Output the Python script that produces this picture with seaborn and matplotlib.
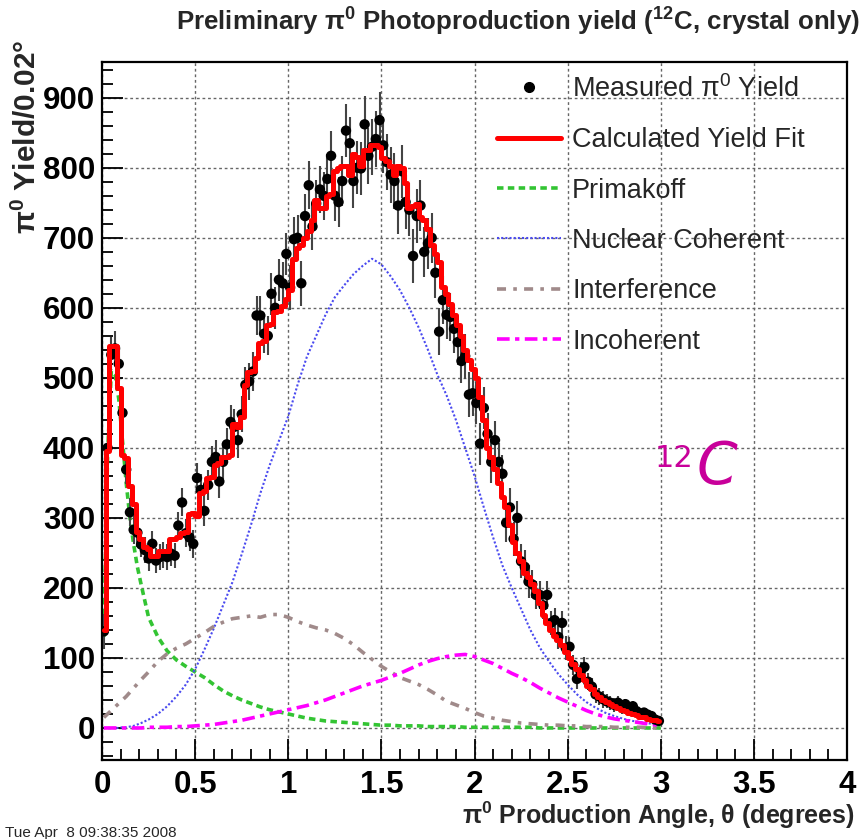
import numpy as np
import pandas as pd
import matplotlib
matplotlib.use("Agg")
import matplotlib.pyplot as plt
from matplotlib.lines import Line2D
from matplotlib.ticker import MultipleLocator, FuncFormatter
import seaborn as sns

# ---------------- data ----------------
# bin centres (0.02 deg bins)
theta = np.round(np.arange(150) * 0.02 + 0.01, 2)

meas_0_1 = [138, 400, 533, 542, 520, 450, 369, 308, 283, 279,
            262, 254, 242, 263, 239, 244, 247, 244, 249, 246,
            289, 322, 278, 272, 263, 357, 340, 310, 347, 380,
            387, 352, 380, 405, 437, 430, 411, 448, 490, 495,
            509, 589, 589, 563, 560, 620, 600, 640, 635, 677]
meas_1_2 = [629, 698, 700, 635, 731, 775, 716, 749, 769, 760,
            784, 817, 760, 751, 781, 853, 835, 781, 800, 799,
            862, 817, 830, 841, 868, 832, 808, 790, 781, 746,
            795, 751, 740, 674, 731, 746, 680, 692, 700, 650,
            566, 611, 590, 587, 570, 551, 524, 531, 476, 478]
meas_2_3 = [464, 406, 457, 420, 380, 411, 380, 363, 293, 315,
            270, 300, 238, 230, 209, 205, 190, 190, 175, 190,
            150, 154, 130, 150, 114, 116, 90, 70, 80, 87,
            66, 59, 48, 45, 41, 38, 36, 33, 36, 30,
            34, 25, 31, 24, 20, 22, 19, 17, 12, 10]

fit_0_1 = [140, 395, 545, 545, 486, 390, 385, 345, 320, 280,
           270, 258, 255, 246, 246, 253, 253, 252, 270, 270,
           272, 279, 280, 305, 307, 303, 335, 338, 357, 358,
           376, 378, 387, 387, 390, 434, 430, 444, 490, 508,
           510, 528, 550, 553, 575, 577, 594, 596, 603, 612]
fit_1_2 = [625, 670, 685, 690, 700, 710, 725, 754, 742, 742,
           760, 762, 796, 800, 802, 802, 790, 820, 815, 802,
           826, 826, 832, 832, 830, 814, 810, 802, 790, 802,
           800, 778, 742, 745, 748, 730, 725, 712, 690, 677,
           665, 629, 620, 605, 590, 575, 560, 540, 525, 512]
fit_2_3 = [500, 473, 440, 400, 387, 370, 350, 330, 315, 290,
           265, 250, 238, 222, 215, 205, 195, 178, 162, 150,
           140, 132, 125, 118, 108, 100, 92, 84, 76, 68,
           60, 55, 49, 44, 40, 37, 34, 31, 28, 26,
           24, 22, 20, 18, 16, 15, 13, 12, 11, 10]

# statistical error per 0.1-deg range (applies to the 5 bins inside)
err_by_tenth = [25, 20, 18, 18, 20, 22, 24, 26, 28, 30,
                32, 34, 36, 38, 40, 40, 38, 36, 34, 32,
                30, 27, 24, 20, 17, 14, 12, 10, 8, 6]

# component curves, sampled finer near the Primakoff peak
comp_theta = np.round(np.r_[np.arange(0.01, 0.22, 0.02),
                            np.arange(0.25, 3.001, 0.05)], 2)
primakoff = [130, 390, 510, 505, 470, 410, 350, 300, 262, 230, 205,
             158, 130, 110, 97, 88, 80, 72, 62, 53, 46,
             40, 35, 30, 26, 23, 20, 17, 14, 12, 10,
             9, 8, 7, 6, 5, 4, 4, 3, 3, 3,
             2, 2, 2, 2, 1, 1, 1, 1, 1, 1,
             1, 1, 0, 0, 0, 0, 0, 0, 0, 0,
             0, 0, 0, 0, 0, 0]
nuclear = [0, 0, 0, 0, 0, 1, 1, 2, 3, 5, 7,
           12, 20, 31, 45, 62, 84, 112, 142, 175, 208,
           248, 290, 335, 375, 410, 445, 490, 530, 560, 590,
           615, 632, 648, 660, 670, 662, 645, 625, 600, 572,
           540, 505, 475, 440, 400, 360, 315, 272, 232, 200,
           170, 140, 115, 95, 77, 62, 48, 37, 29, 22,
           17, 13, 10, 8, 6, 4]
interference = [15, 20, 25, 30, 35, 40, 45, 51, 57, 63, 69,
                80, 95, 106, 114, 120, 128, 136, 145, 151, 156,
                158, 160, 158, 162, 162, 158, 152, 147, 143, 140,
                135, 128, 119, 108, 98, 88, 80, 72, 67, 62,
                55, 47, 38, 33, 28, 22, 17, 14, 11, 9,
                7, 6, 5, 4, 4, 3, 3, 2, 2, 2,
                1, 1, 1, 1, 0, 0]
incoherent = [0, 0, 0, 0, 0, 0, 0, 0, 0, 0, 0,
              1, 1, 1, 2, 2, 3, 4, 5, 7, 9,
              11, 14, 17, 20, 23, 26, 29, 32, 36, 40,
              45, 50, 55, 60, 64, 68, 73, 78, 84, 90,
              95, 99, 102, 104, 105, 102, 97, 92, 85, 78,
              72, 65, 57, 50, 43, 37, 31, 25, 20, 16,
              13, 11, 9, 7, 5, 4]

legend_labels = ["Measured π$^{0}$ Yield", "Calculated Yield Fit", "Primakoff",
                 "Nuclear Coherent", "Interference", "Incoherent"]

df_meas = pd.DataFrame({"theta": theta,
                        "measured": meas_0_1 + meas_1_2 + meas_2_3,
                        "fit": fit_0_1 + fit_1_2 + fit_2_3,
                        "err": np.repeat(err_by_tenth, 5)})
df_comp = pd.DataFrame({"theta": comp_theta, "primakoff": primakoff,
                        "nuclear": nuclear, "interference": interference,
                        "incoherent": incoherent})

# ---------------- style ----------------
sns.set_theme(style="ticks")
plt.rcParams["font.family"] = ["Liberation Sans", "DejaVu Sans"]
plt.rcParams["mathtext.default"] = "regular"

C_GREEN = "#33c433"
C_BLUE = "#4a4af0"
C_BROWN = "#a08a8a"
C_MAG = "#ff00ff"
C_RED = "#ff0000"

fig = plt.figure(figsize=(8.6, 8.39), dpi=100)
fig.patch.set_facecolor("white")
ax = fig.add_axes([0.1186, 0.0942, 0.8663, 0.8319])
ax.set_facecolor("white")

styles = {
    "primakoff": dict(color=C_GREEN, lw=2.6, linestyle=(0, (1.8, 1.2))),
    "nuclear": dict(color=C_BLUE, lw=1.5, linestyle=(0, (1, 1))),
    "interference": dict(color=C_BROWN, lw=2.6, linestyle=(0, (2.5, 2, 1, 2))),
    "incoherent": dict(color=C_MAG, lw=2.6, linestyle=(0, (3.5, 1.5, 1.2, 1.5))),
}
for col, st in styles.items():
    sns.lineplot(data=df_comp, x="theta", y=col, ax=ax, estimator=None,
                 zorder=2, **st)

ax.errorbar(df_meas["theta"], df_meas["measured"], yerr=df_meas["err"],
            fmt="none", ecolor="#444444", elinewidth=1.5, capsize=0, zorder=3)
sns.scatterplot(data=df_meas, x="theta", y="measured", ax=ax, color="black",
                s=56, edgecolor="none", linewidth=0, zorder=4)
sns.lineplot(data=df_meas, x="theta", y="fit", ax=ax, estimator=None,
             color=C_RED, lw=3.6, drawstyle="steps-mid", zorder=5)

# ---------------- axes ----------------
ax.set_xlim(0, 4)
ax.set_ylim(-45.7, 951)
ax.xaxis.set_major_locator(MultipleLocator(0.5))
ax.xaxis.set_minor_locator(MultipleLocator(0.1))
ax.yaxis.set_major_locator(MultipleLocator(100))
ax.yaxis.set_minor_locator(MultipleLocator(20))
ax.xaxis.set_major_formatter(FuncFormatter(lambda v, p: f"{v:g}"))
ax.yaxis.set_major_formatter(FuncFormatter(lambda v, p: f"{v:g}"))
ax.tick_params(which="both", direction="in", color="black", width=1.3,
               top=False, right=False)
ax.tick_params(which="major", length=15)
ax.tick_params(which="minor", length=8)
ax.tick_params(axis="x", which="major", pad=7)
ax.tick_params(axis="y", which="major", pad=5)
for lab in ax.get_xticklabels() + ax.get_yticklabels():
    lab.set_fontsize(22.5)
    lab.set_fontweight("bold")
    lab.set_color("black")
ax.grid(True, which="major", linestyle=(0, (2, 2)), color="#666666", lw=1.0)
ax.set_axisbelow(True)
for sp in ax.spines.values():
    sp.set_color("black")
    sp.set_linewidth(1.6)
ax.set_xlabel("")
ax.set_ylabel("")

# ---------------- legend ----------------
handles = [
    Line2D([], [], marker="o", color="black", linestyle="none", markersize=7),
    Line2D([], [], color=C_RED, lw=3.6),
    Line2D([], [], **styles["primakoff"]),
    Line2D([], [], **styles["nuclear"]),
    Line2D([], [], **styles["interference"]),
    Line2D([], [], **styles["incoherent"]),
]
ax.legend(handles, legend_labels, loc="upper left",
          bbox_to_anchor=(497 / 860, 1 - 75 / 839), bbox_transform=fig.transFigure,
          frameon=False, fontsize=19.5, handlelength=2.35, handletextpad=0.42,
          labelspacing=0.9, borderpad=0, borderaxespad=0)

# ---------------- texts ----------------
fig.text(176 / 860, 1 - 22 / 839,
         "Preliminary π$^{0}$ Photoproduction yield ($^{12}$C, crystal only)",
         ha="left", va="center", fontsize=18.6, fontweight="bold")
fig.text(855 / 860, 1 - 815 / 839, "π$^{0}$ Production Angle, θ (degrees)",
         ha="right", va="center", fontsize=18, fontweight="bold")
fig.text(27 / 860, 1 - 40 / 839, "π$^{0}$ Yield/0.02°", rotation=90,
         ha="center", va="top", fontsize=21.5, fontweight="bold")
fig.text(5 / 860, 1 - 833 / 839, "Tue Apr  8 09:38:35 2008",
         ha="left", va="center", fontsize=11)
fig.text(655 / 860, 1 - 467 / 839, "12", color="#c8009a", fontsize=22,
         ha="left", va="baseline", family="DejaVu Sans")
fig.text(697 / 860, 1 - 484 / 839, "C", color="#c8009a", fontsize=42,
         ha="left", va="baseline", style="italic", family="DejaVu Sans")

fig.savefig("out.png", dpi=100, facecolor="white")
